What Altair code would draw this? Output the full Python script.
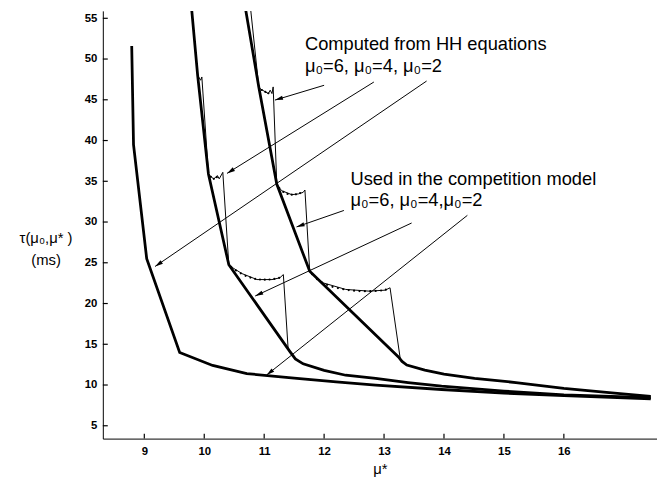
import math
import altair as alt
import pandas as pd

# ---------------- data ----------------
# Competition-model curves (thick)
c6_mu = [10.69, 10.91, 11.21, 11.76, 13.24, 13.30, 13.38, 13.68, 14.0, 14.51, 15.2, 16.0, 16.8, 17.45]
c6_tau = [56.1, 46.58, 34.66, 23.95, 13.45, 12.9, 12.45, 11.82, 11.35, 10.82, 10.3, 9.6, 9.05, 8.6]

c4_mu = [9.79, 9.89, 10.07, 10.41, 11.43, 11.52, 11.65, 12.0, 12.36, 12.86, 13.4, 13.96, 15.0, 16.0, 17.45]
c4_tau = [56.1, 48.0, 35.9, 24.76, 14.1, 13.2, 12.6, 11.8, 11.2, 10.82, 10.3, 9.85, 9.25, 8.8, 8.45]

c2_mu = [8.79, 8.82, 9.04, 9.59, 10.14, 10.71, 11.5, 12.2, 12.86, 13.96, 15.0, 16.0, 17.45]
c2_tau = [51.6, 39.5, 25.5, 14.0, 12.4, 11.4, 10.85, 10.4, 10.0, 9.45, 9.0, 8.7, 8.3]

# Curves computed from HH equations (thin)
h6_mu = [10.70, 10.74, 10.77, 10.91, 10.93, 11.02, 11.07, 11.10, 11.13, 11.15,
         11.21, 11.29, 11.46, 11.57, 11.65, 11.68,
         11.76, 11.81, 11.98, 12.36, 12.75, 13.02, 13.10, 13.27, 13.38, 13.68]
h6_tau = [57.0, 56.2, 56.4, 46.58, 46.37, 45.97, 45.76, 46.18, 45.76, 46.58,
          34.66, 33.85, 33.36, 33.45, 33.64, 33.93,
          23.95, 23.55, 22.54, 21.73, 21.52, 21.64, 21.93, 13.24, 12.45, 11.82]

h4_mu = [9.79, 9.89, 9.94, 9.96, 10.07, 10.12, 10.16, 10.22, 10.25, 10.31,
         10.41, 10.44, 10.63, 10.88, 11.13, 11.26, 11.32, 11.40, 11.52, 11.65]
h4_tau = [56.1, 48.0, 47.4, 47.8, 35.9, 35.5, 35.3, 35.7, 35.3, 36.1,
          24.76, 24.55, 23.67, 22.94, 22.94, 23.15, 23.55, 14.4, 13.2, 12.6]

# dots along the HH plateaus
dot_mu = [11.80, 11.88, 11.96, 12.05, 12.14, 12.23, 12.32, 12.41, 12.50, 12.59, 12.68, 12.77, 12.86, 12.95, 13.03,
          10.45, 10.53, 10.61, 10.69, 10.77, 10.85, 10.93, 11.01, 11.09, 11.17, 11.25,
          11.25, 11.32, 11.39, 11.46, 11.53, 11.60,
          10.96, 11.02, 11.07, 10.11, 10.16, 10.21]
dot_tau = [23.6, 23.0, 22.6, 22.3, 22.05, 21.9, 21.75, 21.65, 21.58, 21.53, 21.52, 21.52, 21.55, 21.6, 21.7,
           24.5, 24.05, 23.7, 23.4, 23.18, 23.02, 22.95, 22.93, 22.95, 23.02, 23.15,
           34.2, 33.7, 33.45, 33.36, 33.4, 33.55,
           46.2, 45.97, 45.8, 35.55, 35.3, 35.5]

# arrows (start -> tip)
arr_mu0 = [12.00, 12.83, 13.71, 12.33, 13.46, 14.39]
arr_tau0 = [46.78, 47.18, 47.30, 31.42, 29.88, 30.82]
arr_mu1 = [11.18, 10.38, 9.18, 11.54, 10.85, 11.04]
arr_tau1 = [44.96, 35.97, 24.55, 29.40, 20.92, 11.22]

# annotation texts (left/baseline anchor in data units)
ann_text = ["Computed from HH equations", "μ₀=6, μ₀=4, μ₀=2",
            "Used in the competition model", "μ₀=6, μ₀=4,μ₀=2"]
ann_mu = [11.68, 11.68, 12.44, 12.44]
ann_tau = [51.1, 48.4, 34.5, 32.0]

x_ticks = [9, 10, 11, 12, 13, 14, 15, 16]
y_ticks = [5, 10, 15, 20, 25, 30, 35, 40, 45, 50, 55]

X_DOM = [8.308, 17.554]
Y_DOM = [3.424, 55.91]
W, H = 561, 433
TICK_PX = 5
FONT = "Liberation Sans"

# ---------------- tables ----------------
def curve(mu, tau, name):
    return pd.DataFrame({"mu": mu, "tau": tau, "s": name, "i": range(len(mu))})

thick = pd.concat([curve(c6_mu, c6_tau, "c6"), curve(c4_mu, c4_tau, "c4"), curve(c2_mu, c2_tau, "c2")])
thin = pd.concat([curve(h6_mu, h6_tau, "h6"), curve(h4_mu, h4_tau, "h4")])
dots = pd.DataFrame({"mu": dot_mu, "tau": dot_tau})

sx = W / (X_DOM[1] - X_DOM[0])
sy = H / (Y_DOM[1] - Y_DOM[0])
angs = []
for a, b, c, d in zip(arr_mu0, arr_tau0, arr_mu1, arr_tau1):
    dxs = (c - a) * sx
    dys = -(d - b) * sy
    angs.append(math.degrees(math.atan2(dxs, -dys)) % 360)
arrows = pd.DataFrame({"mu0": arr_mu0, "tau0": arr_tau0, "mu1": arr_mu1, "tau1": arr_tau1, "ang": angs})
ann = pd.DataFrame({"mu": ann_mu, "tau": ann_tau, "t": ann_text})
# inward tick marks, built from the tick values and the axis ends
xt = pd.DataFrame({"v": x_ticks, "a": Y_DOM[0], "b": Y_DOM[0] + TICK_PX / sy})
yt = pd.DataFrame({"v": y_ticks, "a": X_DOM[0], "b": X_DOM[0] + TICK_PX / sx})

xs = alt.Scale(domain=X_DOM, nice=False, zero=False)
ys = alt.Scale(domain=Y_DOM, nice=False, zero=False)

X = alt.X("mu:Q", scale=xs, axis=alt.Axis(values=x_ticks, format="d", title="μ*", ticks=False, labelPadding=7,
                                          titleFontSize=15, titleFontWeight="normal", titlePadding=5))
Y = alt.Y("tau:Q", scale=ys, axis=alt.Axis(values=y_ticks, format="d", title=["τ(μ₀,μ* )", "(ms)"], ticks=False,
                                           labelPadding=6, titleAngle=0, titleAlign="center",
                                           titleBaseline="top", titleX=-58, titleY=222,
                                           titleFontSize=15, titleFontWeight="normal", titleLineHeight=23))

thick_l = alt.Chart(thick).mark_line(color="black", strokeWidth=2.8, clip=True).encode(
    x=X, y=Y, detail="s:N", order="i:Q")
thin_l = alt.Chart(thin).mark_line(color="black", strokeWidth=1, clip=True).encode(
    x=alt.X("mu:Q", scale=xs), y=alt.Y("tau:Q", scale=ys), detail="s:N", order="i:Q")
dot_l = alt.Chart(dots).mark_circle(color="black", size=5, opacity=1).encode(
    x=alt.X("mu:Q", scale=xs), y=alt.Y("tau:Q", scale=ys))
arr_l = alt.Chart(arrows).mark_rule(color="black", strokeWidth=1).encode(
    x=alt.X("mu0:Q", scale=xs), y=alt.Y("tau0:Q", scale=ys), x2="mu1:Q", y2="tau1:Q")
head_l = alt.Chart(arrows).mark_point(shape="M0,0L-0.6,2.3L0.6,2.3Z", filled=True, color="black",
                                      size=50, opacity=1).encode(
    x=alt.X("mu1:Q", scale=xs), y=alt.Y("tau1:Q", scale=ys), angle=alt.Angle("ang:Q", scale=None))
text_l = alt.Chart(ann).mark_text(align="left", baseline="alphabetic", font=FONT, fontSize=18.5,
                                  color="black").encode(
    x=alt.X("mu:Q", scale=xs), y=alt.Y("tau:Q", scale=ys), text="t:N")
xtick_l = alt.Chart(xt).mark_rule(color="black", strokeWidth=1.2).encode(
    x=alt.X("v:Q", scale=xs), y=alt.Y("a:Q", scale=ys), y2="b:Q")
ytick_l = alt.Chart(yt).mark_rule(color="black", strokeWidth=1.2).encode(
    y=alt.Y("v:Q", scale=ys), x=alt.X("a:Q", scale=xs), x2="b:Q")

chart = alt.layer(thick_l, thin_l, dot_l, arr_l, head_l, text_l, xtick_l, ytick_l).properties(
    width=W, height=H, autosize=alt.AutoSizeParams(type="none"),
    padding={"left": 96, "top": 0, "right": 0, "bottom": 40},
).configure_view(stroke=None).configure_axis(
    grid=False, domainColor="black", domainWidth=1, labelColor="black", titleColor="black",
    labelFont=FONT, titleFont=FONT, labelFontSize=11.5, labelFontWeight="bold",
)

chart.save("out.html", embed_options={"renderer": "svg", "actions": False})
